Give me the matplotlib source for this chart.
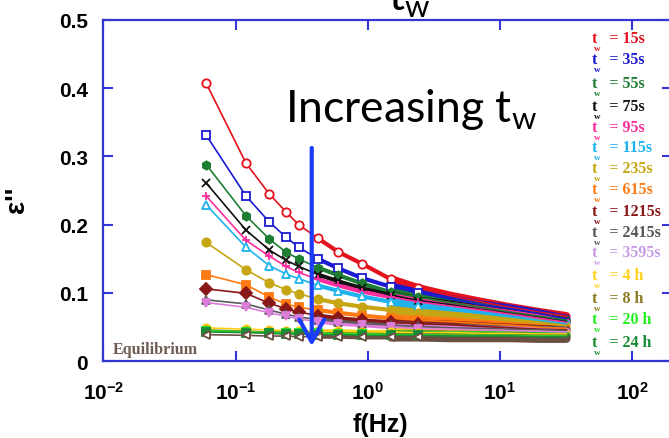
import matplotlib.pyplot as plt
import numpy as np
from matplotlib.ticker import FixedLocator, FuncFormatter, NullLocator

plt.rcParams['mathtext.fontset'] = 'custom'
plt.rcParams['mathtext.rm'] = 'Liberation Sans'
plt.rcParams['mathtext.bf'] = 'Liberation Sans:bold'

# frequencies (Hz) at which the curves are read
freq = [0.06, 0.12, 0.18, 0.24, 0.30, 0.42, 0.60, 0.90, 1.5, 2.4, 4.2, 7.2, 12, 19.8, 31.8]

# epsilon'' for each waiting time
eps_15s = [0.407, 0.290, 0.245, 0.219, 0.200, 0.180, 0.160, 0.143, 0.120, 0.107, 0.096, 0.087, 0.079, 0.072, 0.066]
eps_35s = [0.331, 0.242, 0.204, 0.182, 0.167, 0.150, 0.136, 0.122, 0.109, 0.100, 0.091, 0.083, 0.077, 0.070, 0.062]
eps_55s = [0.288, 0.213, 0.179, 0.160, 0.150, 0.137, 0.126, 0.114, 0.101, 0.094, 0.086, 0.079, 0.072, 0.066, 0.060]
eps_75s = [0.261, 0.192, 0.163, 0.148, 0.139, 0.127, 0.117, 0.107, 0.097, 0.089, 0.083, 0.076, 0.070, 0.064, 0.058]
eps_95s = [0.242, 0.177, 0.154, 0.139, 0.130, 0.120, 0.111, 0.102, 0.094, 0.087, 0.081, 0.075, 0.069, 0.063, 0.057]
eps_115s = [0.229, 0.167, 0.140, 0.128, 0.121, 0.111, 0.103, 0.095, 0.087, 0.081, 0.076, 0.070, 0.065, 0.060, 0.055]
eps_235s = [0.174, 0.134, 0.115, 0.105, 0.099, 0.091, 0.085, 0.080, 0.075, 0.071, 0.067, 0.063, 0.059, 0.056, 0.052]
eps_615s = [0.127, 0.112, 0.094, 0.084, 0.079, 0.075, 0.071, 0.067, 0.063, 0.060, 0.058, 0.055, 0.053, 0.050, 0.048]
eps_1215s = [0.106, 0.0995, 0.085, 0.077, 0.072, 0.067, 0.063, 0.060, 0.057, 0.055, 0.0535, 0.051, 0.049, 0.047, 0.046]
eps_2415s = [0.090, 0.084, 0.075, 0.069, 0.065, 0.061, 0.058, 0.055, 0.053, 0.051, 0.049, 0.048, 0.047, 0.046, 0.045]
eps_3595s = [0.086, 0.079, 0.071, 0.066, 0.062, 0.058, 0.055, 0.053, 0.050, 0.048, 0.047, 0.046, 0.045, 0.044, 0.043]
eps_4h = [0.049, 0.047, 0.046, 0.045, 0.045, 0.044, 0.044, 0.043, 0.043, 0.042, 0.042, 0.041, 0.041, 0.040, 0.040]
eps_8h = [0.046, 0.044, 0.043, 0.043, 0.042, 0.042, 0.041, 0.041, 0.040, 0.040, 0.039, 0.039, 0.038, 0.038, 0.038]
eps_20h = [0.045, 0.043, 0.042, 0.042, 0.041, 0.041, 0.040, 0.040, 0.039, 0.039, 0.038, 0.038, 0.038, 0.037, 0.037]
eps_24h = [0.043, 0.042, 0.041, 0.040, 0.040, 0.039, 0.039, 0.038, 0.038, 0.038, 0.037, 0.037, 0.037, 0.036, 0.036]
eps_equil = [0.039, 0.038, 0.037, 0.037, 0.036, 0.036, 0.036, 0.035, 0.035, 0.035, 0.034, 0.034, 0.034, 0.033, 0.033]

labels = ["15s", "35s", "55s", "75s", "95s", "115s", "235s", "615s", "1215s",
          "2415s", "3595s", "4 h", "8 h", "20 h", "24 h"]
series = [eps_15s, eps_35s, eps_55s, eps_75s, eps_95s, eps_115s, eps_235s, eps_615s,
          eps_1215s, eps_2415s, eps_3595s, eps_4h, eps_8h, eps_20h, eps_24h]

line_colors = ['#e3121c', '#1a1ad0', '#1d7d32', '#111111', '#ff2e9e', '#1fb2ec', '#c6a612',
               '#ff7a12', '#8a1717', '#5a5a5a', '#dc7ddc', '#ffd21c', '#8c7a22', '#22ee22', '#1a8c35']
text_colors = ['#e3121c', '#1a1ad0', '#1d7d32', '#111111', '#ff2e9e', '#1fb2ec', '#c6a612',
               '#ff7a12', '#8a1717', '#555555', '#c79be6', '#ffd21c', '#8c7a22', '#22ee22', '#1a8c35']
markers = ['o', 's', 'h', 'x', '+', '^', 'o', 's', 'D', '^', 'v', 'o', 'o', 's', 's']
hollow = [True, True, False, False, False, True, False, False, False, False, False, False, False, True, False]
legend_y = [39, 60, 84, 107, 128, 148, 169, 190, 212, 233, 253, 276, 299, 320, 343]

axis_blue = '#3535d5'


def draw_curve(ax, vals, c, m, h):
    v = np.array(vals)
    # dense overlapping markers in the original look like a band that widens to the right
    ax.plot(f[5:9], v[5:9], color=c, lw=3, solid_capstyle='round', zorder=2)
    ax.plot(f[8:], v[8:], color=c, lw=6, solid_capstyle='round', zorder=2)
    ax.plot(f, v, color=c, lw=1.2, marker=m, ms=6, mew=1.3, markevery=list(range(10)),
            mfc='white' if h else c, mec=c, zorder=3)


fig = plt.figure(figsize=(6.69, 4.39), dpi=100)
ax = fig.add_axes([0.1544, 0.1747, 0.8501, 0.7781])

f = np.array(freq)
for vals, c, m, h in zip(series, line_colors, markers, hollow):
    draw_curve(ax, vals, c, m, h)
draw_curve(ax, eps_equil, '#6b4e42', '<', True)

ax.set_xscale('log')
ax.set_xlim(1e-2, 200)
ax.set_ylim(0, 0.5)
ax.xaxis.set_major_locator(FixedLocator([1e-2, 1e-1, 1, 10, 100]))
ax.xaxis.set_minor_locator(NullLocator())
ax.xaxis.set_major_formatter(FuncFormatter(lambda v, p: r'$\mathbf{10^{%d}}$' % round(np.log10(v))))
ax.set_yticks([0, 0.1, 0.2, 0.3, 0.4, 0.5])
ax.set_yticklabels(['0', '0.1', '0.2', '0.3', '0.4', '0.5'])

for s in ax.spines.values():
    s.set_color(axis_blue)
    s.set_linewidth(1.6)
ax.tick_params(axis='both', which='major', direction='in', length=7, width=1.5,
               color=axis_blue, top=True, right=True)
ax.tick_params(axis='x', pad=14, labelsize=15)
ax.tick_params(axis='y', pad=11, labelsize=15)
for lab in ax.get_yticklabels():
    lab.set_fontfamily('Liberation Sans')
    lab.set_fontweight('bold')

ax.set_xlabel('f(Hz)', fontsize=18, fontweight='bold', family='Liberation Sans')
ax.xaxis.set_label_coords(0.488, -0.148)
ax.set_ylabel("ε''", fontsize=20, fontweight='bold', family='Liberation Sans')
ax.yaxis.set_label_coords(-0.128, 0.475)

ax.text(0.01184, 0.0122, 'Equilibrium', fontsize=11.5, fontweight='bold',
        family='Liberation Serif', color='#6e5b52', va='baseline')

ax.text(0.2357, 0.352, r'Increasing t$_\mathregular{w}$', fontsize=32, family='Lato',
        va='baseline', color='black')
fig.text(388 / 669, 1 - 11 / 439, r't$_\mathregular{w}$', fontsize=32, family='Lato',
         va='baseline', color='black')

ax.annotate('', xy=(0.377, 0.0224), xytext=(0.377, 0.3123),
            arrowprops=dict(arrowstyle='->, head_length=0.8, head_width=0.45',
                            color='#1a3cff', lw=3, mutation_scale=20,
                            shrinkA=0, shrinkB=0), zorder=5)

for lab, c, yy in zip(labels, text_colors, legend_y):
    fig.text(592 / 669, 1 - yy / 439, 't   = ' + lab, fontsize=11.5, fontweight='bold',
             family='Liberation Serif', color=c, va='center')
    fig.text(597 / 669, 1 - (yy + 10) / 439, 'w', fontsize=6.5, fontweight='bold',
             family='Liberation Serif', color=c, va='center', ha='center')

fig.savefig('out.png', dpi=100)
